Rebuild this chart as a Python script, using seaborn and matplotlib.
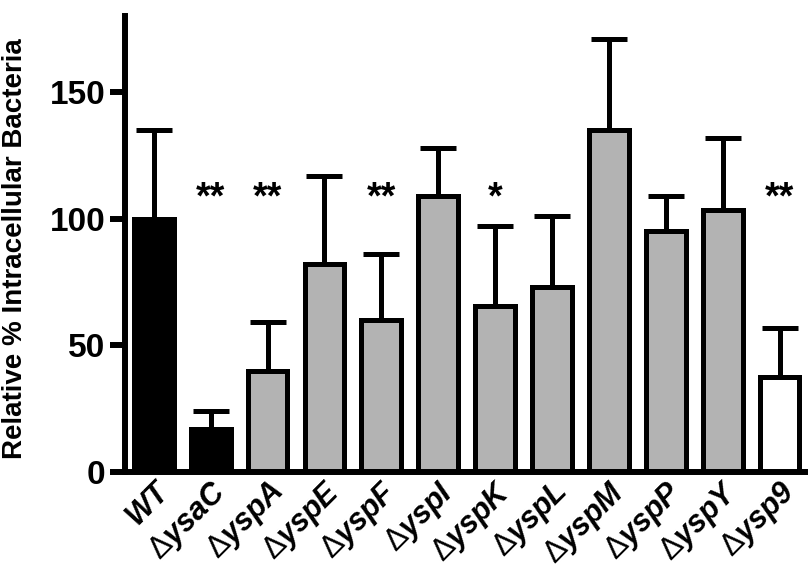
import numpy as np
import pandas as pd
import seaborn as sns
import matplotlib.pyplot as plt

# values
strains = ["WT", "ΔysaC", "ΔyspA", "ΔyspE", "ΔyspF", "ΔyspI",
           "ΔyspK", "ΔyspL", "ΔyspM", "ΔyspP", "ΔyspY", "Δysp9"]
means = [100, 17, 40, 82, 60, 109, 65.5, 73, 135, 95, 103.5, 37.5]
upper = [135, 24, 59, 117, 86, 128, 97, 101, 171, 109, 132, 57]
stars = ["", "**", "**", "", "**", "", "*", "", "", "", "", "**"]
fills = ["black", "black", "#b3b3b3", "#b3b3b3", "#b3b3b3", "#b3b3b3",
         "#b3b3b3", "#b3b3b3", "#b3b3b3", "#b3b3b3", "#b3b3b3", "white"]

sns.set_style("ticks")
plt.rcParams['font.family'] = ['Liberation Sans', 'DejaVu Sans']
plt.rcParams['mathtext.fontset'] = 'custom'
plt.rcParams['mathtext.rm'] = 'Liberation Sans'
for key in ['text.color', 'axes.labelcolor', 'xtick.color', 'ytick.color', 'axes.edgecolor']:
    plt.rcParams[key] = 'black'

df = pd.DataFrame({"strain": strains, "value": means})
err = np.array(upper) - np.array(means)

fig = plt.figure(figsize=(8.1, 5.81), dpi=100)
ax = fig.add_axes([0.154, 0.188, 0.84, 0.784])

sns.barplot(data=df, x="strain", y="value", hue="strain", palette=fills,
            legend=False, edgecolor="black", linewidth=3.6, width=0.7,
            errorbar=None, ax=ax, zorder=3)

eb = ax.errorbar(np.arange(len(strains)), means, yerr=[np.zeros(len(err)), err],
                 fmt="none", ecolor="black", elinewidth=3.6, capsize=13,
                 capthick=3.6, zorder=2)
for ln in eb.lines[1]:
    ln.set_solid_capstyle("round")

for i, s in enumerate(stars):
    if s:
        ax.text(i, 108, s, ha="center", va="center", fontsize=27, fontweight="bold")

# thin outlined delta like the original, rest bold italic
tick_text = [s.replace("Δ", r"$\Delta$") for s in strains]

ax.set_ylim(0, 180)
ax.set_xlim(-0.51, 11.45)
ax.set_yticks([0, 50, 100, 150])
ax.set_yticklabels(["0", "50", "100", "150"], fontsize=24, fontweight="bold")
ax.set_xticks(range(len(strains)))
ax.set_xticklabels(tick_text, rotation=45, ha="right", rotation_mode="anchor",
                   fontsize=22, fontweight="bold", fontstyle="italic")
ax.tick_params(axis="y", length=11, width=4.3, pad=3)
ax.tick_params(axis="x", length=0, pad=3)
ax.set_xlabel("")
ax.set_ylabel("Relative % Intracellular Bacteria", fontsize=20, fontweight="bold")
ax.yaxis.set_label_coords(-0.142, 0.49)

sns.despine(ax=ax)
for sp in ["left", "bottom"]:
    ax.spines[sp].set_linewidth(4.3)
    ax.spines[sp].set_zorder(4)

fig.savefig("out.png", dpi=100)
